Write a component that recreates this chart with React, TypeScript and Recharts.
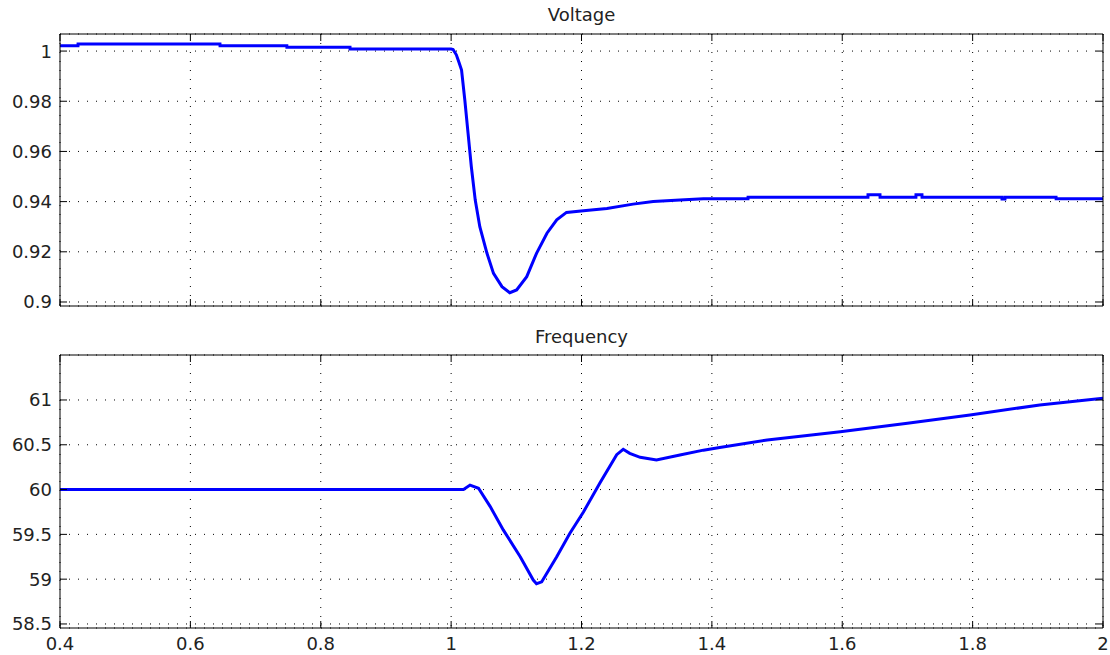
import React from 'react';
import { LineChart, Line, XAxis, YAxis, CartesianGrid } from 'recharts';

// ---- axis ticks ----
const xTicks = [0.4, 0.6, 0.8, 1.0, 1.2, 1.4, 1.6, 1.8, 2.0];
const xTickLabels = ['0.4', '0.6', '0.8', '1', '1.2', '1.4', '1.6', '1.8', '2'];
const vTicks = [0.9, 0.92, 0.94, 0.96, 0.98, 1.0];
const vTickLabels = ['0.9', '0.92', '0.94', '0.96', '0.98', '1'];
const fTicks = [58.5, 59, 59.5, 60, 60.5, 61];
const fTickLabels = ['58.5', '59', '59.5', '60', '60.5', '61'];

// ---- Voltage series ----
const vTime = [
  0.4, 0.4276, 0.4277, 0.6454, 0.6455, 0.748, 0.7481, 0.8449, 0.845, 1.0,
  1.003, 1.008, 1.012, 1.016, 1.021, 1.026, 1.031, 1.037, 1.044, 1.055, 1.065,
  1.078, 1.09, 1.1005, 1.116, 1.131, 1.147, 1.162, 1.177, 1.203, 1.239,
  1.279, 1.31, 1.351, 1.387, 1.4554, 1.4555, 1.6394, 1.6395, 1.6579, 1.658,
  1.713, 1.7131, 1.7223, 1.7224, 1.845, 1.8451, 1.8496, 1.8497, 1.928, 1.9281, 2.0,
];
const vValue = [
  1.0021, 1.0021, 1.0028, 1.0028, 1.0021, 1.0021, 1.0015, 1.0015, 1.0008, 1.0008,
  1.0006, 0.9985, 0.9955, 0.9924, 0.9805, 0.9672, 0.9539, 0.9406, 0.93, 0.9194, 0.9114,
  0.9061, 0.9037, 0.9048, 0.9101, 0.9194, 0.9274, 0.9327, 0.9357, 0.9364, 0.9373,
  0.939, 0.94, 0.9406, 0.9411, 0.9411, 0.9417, 0.9417, 0.9427, 0.9427, 0.9417,
  0.9417, 0.9427, 0.9427, 0.9417, 0.9417, 0.941, 0.941, 0.9417, 0.9417, 0.9411, 0.9411,
];

// ---- Frequency series ----
const fTime = [
  0.4, 1.019, 1.029, 1.042, 1.06, 1.08, 1.106, 1.126, 1.131, 1.139,
  1.162, 1.182, 1.203, 1.228, 1.254, 1.264, 1.274, 1.29, 1.315, 1.351,
  1.387, 1.412, 1.485, 1.597, 1.7, 1.796, 1.903, 2.0,
];
const fValue = [
  60, 60, 60.05, 60.015, 59.81, 59.55, 59.25, 58.99, 58.95, 58.97,
  59.25, 59.51, 59.75, 60.07, 60.39, 60.45, 60.405, 60.36, 60.33, 60.386,
  60.44, 60.47, 60.554, 60.646, 60.74, 60.833, 60.944, 61.02,
];

const voltageData = vTime.map((t, i) => ({ t, v: vValue[i] }));
const freqData = fTime.map((t, i) => ({ t, v: fValue[i] }));

const FONT = 'DejaVu Sans';
const FS = 18;
const TXT = '#222';
const TL = 7;

const findLabel = (ticks: number[], labels: string[], v: number) => {
  const i = ticks.findIndex((t) => Math.abs(t - v) < 1e-9);
  return i >= 0 ? labels[i] : String(v);
};

const leftTick = (ticks: number[], labels: string[]) => (props: any) => {
  const { x, y, payload } = props;
  return (
    <g>
      <line x1={x} x2={x + TL} y1={y} y2={y} stroke="#000" />
      <text x={x - 8} y={y} textAnchor="end" dominantBaseline="central" fontFamily={FONT} fontSize={FS} fill={TXT}>
        {findLabel(ticks, labels, payload.value)}
      </text>
    </g>
  );
};
const rightTick = (props: any) => {
  const { x, y } = props;
  return <line x1={x} x2={x - TL} y1={y} y2={y} stroke="#000" />;
};
const topTick = (props: any) => {
  const { x, y } = props;
  return <line x1={x} x2={x} y1={y} y2={y + TL} stroke="#000" />;
};
const bottomTickNoLabel = (props: any) => {
  const { x, y } = props;
  return <line x1={x} x2={x} y1={y} y2={y - TL} stroke="#000" />;
};
const bottomTickLabel = (props: any) => {
  const { x, y, payload } = props;
  return (
    <g>
      <line x1={x} x2={x} y1={y} y2={y - TL} stroke="#000" />
      <text x={x} y={y + 15} textAnchor="middle" dominantBaseline="central" fontFamily={FONT} fontSize={FS} fill={TXT}>
        {findLabel(xTicks, xTickLabels, payload.value)}
      </text>
    </g>
  );
};

const axisLine = { stroke: '#000', strokeWidth: 1 };

function Panel(props: {
  data: { t: number; v: number }[];
  height: number;
  topH: number;
  bottomH: number;
  domain: [number, number];
  yTicks: number[];
  yLabels: string[];
  showX: boolean;
}) {
  const { data, height, topH, bottomH, domain, yTicks, yLabels, showX } = props;
  return (
    <LineChart width={1110} height={height} data={data} margin={{ top: 0, right: 0, bottom: 0, left: 0 }}>
      <CartesianGrid stroke="#000" strokeDasharray="1 8" />
      <XAxis
        dataKey="t"
        type="number"
        domain={[0.4, 2]}
        ticks={xTicks}
        interval={0}
        allowDataOverflow
        height={bottomH}
        tickSize={0}
        tickMargin={0}
        axisLine={axisLine}
        tickLine={false}
        tick={showX ? bottomTickLabel : bottomTickNoLabel}
      />
      <XAxis
        xAxisId="top"
        orientation="top"
        dataKey="t"
        type="number"
        domain={[0.4, 2]}
        ticks={xTicks}
        interval={0}
        allowDataOverflow
        height={topH}
        tickSize={0}
        tickMargin={0}
        axisLine={axisLine}
        tickLine={false}
        tick={topTick}
      />
      <YAxis
        type="number"
        domain={domain}
        ticks={yTicks}
        interval={0}
        allowDataOverflow
        width={60}
        tickSize={0}
        tickMargin={0}
        axisLine={axisLine}
        tickLine={false}
        tick={leftTick(yTicks, yLabels)}
      />
      <YAxis
        yAxisId="right"
        orientation="right"
        type="number"
        domain={domain}
        ticks={yTicks}
        interval={0}
        allowDataOverflow
        width={7}
        tickSize={0}
        tickMargin={0}
        axisLine={axisLine}
        tickLine={false}
        tick={rightTick}
      />
      <Line
        type="linear"
        dataKey="v"
        stroke="#0000ff"
        strokeWidth={3}
        dot={false}
        isAnimationActive={false}
      />
    </LineChart>
  );
}

const titleStyle: React.CSSProperties = {
  position: 'absolute',
  left: 60,
  width: 1043,
  textAlign: 'center',
  fontFamily: FONT,
  fontSize: FS,
  color: TXT,
  lineHeight: '20px',
};

export default function App() {
  return (
    <div style={{ position: 'absolute', left: 0, top: 0, width: 1110, height: 655, background: '#fff' }}>
      <div style={{ position: 'absolute', left: 0, top: 0 }}>
        <Panel
          data={voltageData}
          height={330}
          topH={34}
          bottomH={24}
          domain={[0.8984, 1.0068]}
          yTicks={vTicks}
          yLabels={vTickLabels}
          showX={false}
        />
      </div>
      <div style={{ position: 'absolute', left: 0, top: 330 }}>
        <Panel
          data={freqData}
          height={325}
          topH={25}
          bottomH={27}
          domain={[58.455, 61.502]}
          yTicks={fTicks}
          yLabels={fTickLabels}
          showX={true}
        />
      </div>
      <div style={{ ...titleStyle, top: 5 }}>Voltage</div>
      <div style={{ ...titleStyle, top: 327 }}>Frequency</div>
    </div>
  );
}
